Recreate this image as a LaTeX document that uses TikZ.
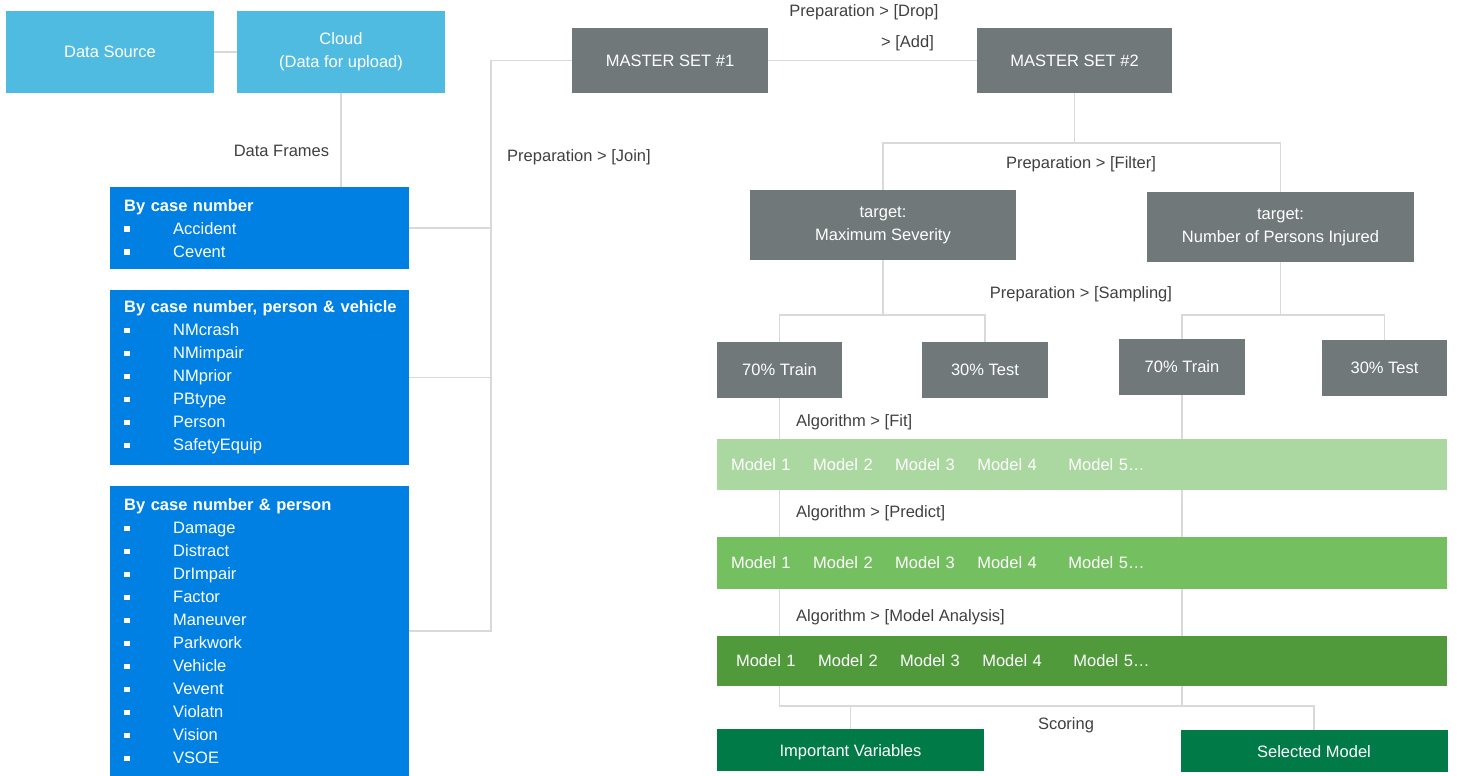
\documentclass[tikz,border=0pt]{standalone}
\usepackage{fontspec}
\setmainfont{Liberation Sans}
\usetikzlibrary{positioning, backgrounds}
\definecolor{skyblue}{RGB}{80,187,224}
\definecolor{caseblue}{RGB}{0,128,226}
\definecolor{slate}{RGB}{113,120,122}
\definecolor{fitgreen}{RGB}{171,216,160}
\definecolor{predgreen}{RGB}{116,191,96}
\definecolor{analgreen}{RGB}{80,154,60}
\definecolor{scoregreen}{RGB}{0,122,70}
\definecolor{wire}{RGB}{217,217,217}
\definecolor{caption}{RGB}{64,64,64}
\newcommand{\itm}[1]{\makebox[49pt][l]{\raisebox{2.5pt}{\rule{5.5pt}{5.5pt}}}#1}
\newcommand{\modelrow}{Model 1\hspace{22.5pt}Model 2\hspace{22.5pt}Model 3\hspace{22.5pt}Model 4\hspace{31.5pt}Model 5…}

\begin{document}
\begin{tikzpicture}[x=1pt, y=-1pt, font=\fontsize{16.5}{23}\selectfont,
    cloudbox/.style={fill=skyblue, text=white, align=center, minimum width=208pt, minimum height=82pt},
    casebox/.style={fill=caseblue, text=white, anchor=north west, align=left, text width=271pt, inner xsep=14pt, inner ysep=0pt},
    slatebox/.style={fill=slate, text=white, align=center, inner sep=0pt},
    band/.style={text=white, minimum width=730pt, text width=702pt, inner xsep=14pt, inner ysep=0pt, align=left},
    scorebox/.style={fill=scoregreen, text=white, minimum width=267pt, minimum height=42pt, inner sep=0pt, text height=12pt, text depth=0pt},
    label/.style={text=caption, anchor=base, inner sep=0pt},
    link/.style={draw=wire, line width=1.5pt}]
  \useasboundingbox (0,0) rectangle (1457,776);

  \node[cloudbox] (ds) at (110,52) {Data Source};
  \node[cloudbox] (cloud) at (341,52) {Cloud\\(Data for upload)};

  \node[casebox, minimum height=82pt] (cn) at (110,187)
    {\textbf{By case number}\\ \itm{Accident}\\ \itm{Cevent}};
  \node[casebox, minimum height=175pt] (cnpv) at (110,290)
    {\textbf{\mbox{By case number, person \& vehicle}}\\ \itm{NMcrash}\\ \itm{NMimpair}\\
     \itm{NMprior}\\ \itm{PBtype}\\ \itm{Person}\\ \itm{SafetyEquip}};
  \node[casebox, minimum height=290pt] (cnp) at (110,486)
    {\textbf{By case number \& person}\\ \itm{Damage}\\ \itm{Distract}\\ \itm{DrImpair}\\
     \itm{Factor}\\ \itm{Maneuver}\\ \itm{Parkwork}\\ \itm{Vehicle}\\ \itm{Vevent}\\
     \itm{Violatn}\\ \itm{Vision}\\ \itm{VSOE}};

  \node[slatebox, minimum width=196pt, minimum height=65pt] (ms1) at (670,60.5) {MASTER SET \#1};
  \node[slatebox, minimum width=195pt, minimum height=65pt] (ms2) at (1074.5,60.5) {MASTER SET \#2};
  \node[slatebox, minimum width=266pt, minimum height=70pt] (tgsev) at (883,225) {target:\\Maximum Severity};
  \node[slatebox, minimum width=267pt, minimum height=70pt] (tginj) at (1280.5,227) {target:\\Number of Persons Injured};

  \node[slatebox, minimum width=125pt, minimum height=56pt] (tr1) at (779.5,370) {70\% Train};
  \node[slatebox, minimum width=126pt, minimum height=56pt] (te1) at (985,370) {30\% Test};
  \node[slatebox, minimum width=126pt, minimum height=56pt] (tr2) at (1182,367) {70\% Train};
  \node[slatebox, minimum width=125pt, minimum height=56pt] (te2) at (1384.5,368) {30\% Test};

  \node[band, fill=fitgreen, minimum height=51pt] (fit) at (1082,464.5) {\modelrow};
  \node[band, fill=predgreen, minimum height=52pt] (pred) at (1082,563) {\modelrow};
  \node[band, fill=analgreen, minimum height=50pt] (anal) at (1082,661) {\hspace*{5pt}\modelrow};

  \node[scorebox] (impvar) at (850.5,750) {Important Variables};
  \node[scorebox] (selmod) at (1314,751) {Selected Model};

  \node[label] (lblframes) at (281.5,156) {Data Frames};
  \node[label] (lbljoin) at (579,161) {Preparation > [Join]};
  \node[label] (lbldrop) at (864,17) {Preparation > [Drop]};
  \node[label] (lbladd) at (907.5,48) {> [Add]};
  \node[label] (lblfilter) at (1081,168) {Preparation > [Filter]};
  \node[label] (lblsamp) at (1081,298) {Preparation > [Sampling]};
  \node[label, anchor=base west] (lblfit) at (796,426) {Algorithm > [Fit]};
  \node[label, anchor=base west] (lblpred) at (796,517) {Algorithm > [Predict]};
  \node[label, anchor=base west] (lblanal) at (796,621) {Algorithm > [Model Analysis]};
  \node[label] (lblscore) at (1066,729) {Scoring};

  \coordinate (join) at (491,60.5);
  \coordinate (filt) at (1074.5,143);
  \coordinate (samp1) at (883,315);
  \coordinate (samp2) at (1280.5,315);
  \coordinate (score) at (1182,706);

  \begin{pgfonlayer}{background}
    \draw[link] (ds) -- (cloud);
    \draw[link] (cloud.south) -- (cloud |- cn.north);
    \draw[link] (ms1.west) -- (join) |- (cnp.east);
    \draw[link] (cn.east) -| (join);
    \draw[link] (cnpv.east) -| (join);
    \draw[link] (ms1.east) -- (ms2.west);
    \draw[link] (ms2.south) -- (filt);
    \draw[link] (tgsev.north) |- (filt) -| (tginj.north);
    \draw[link] (tgsev.south) -- (samp1);
    \draw[link] (tr1.north) |- (samp1) -| (te1.north);
    \draw[link] (tginj.south) -- (samp2);
    \draw[link] (tr2.north) |- (samp2) -| (te2.north);
    \draw[link] (tr1.south) |- (score) -| (selmod.north);
    \draw[link] (tr2.south) -- (score);
    \draw[link] (impvar.north) -- (impvar |- score);
  \end{pgfonlayer}
\end{tikzpicture}
\end{document}
